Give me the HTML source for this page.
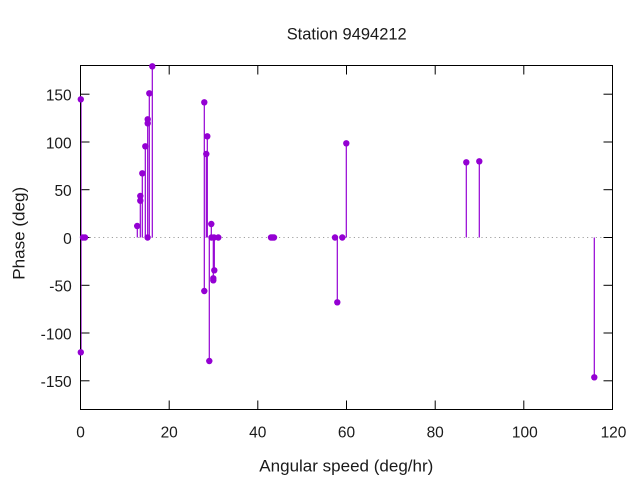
<!DOCTYPE html>
<html>
<head>
<meta charset="utf-8">
<style>
html,body{margin:0;padding:0;background:#fff;}
svg{display:block;}
text{font-family:"Liberation Sans",sans-serif;fill:#1a1a1a;}
</style>
</head>
<body>
<svg width="640" height="480" viewBox="0 0 640 480" xmlns="http://www.w3.org/2000/svg">
<rect width="640" height="480" fill="#fff"/>
<!-- title -->
<text x="346.7" y="39.3" font-size="16.5" text-anchor="middle" textLength="120" lengthAdjust="spacingAndGlyphs">Station 9494212</text>
<!-- zero line -->
<line x1="81" y1="237.5" x2="612" y2="237.5" stroke="#a0a0a0" stroke-width="1" stroke-dasharray="1.2,3.2"/>
<!-- ticks -->
<g stroke="#000" stroke-width="1">
  <!-- y ticks left & right -->
  <line x1="80.5" y1="94.2" x2="89.5" y2="94.2"/><line x1="612.5" y1="94.2" x2="603.5" y2="94.2"/>
  <line x1="80.5" y1="142" x2="89.5" y2="142"/><line x1="612.5" y1="142" x2="603.5" y2="142"/>
  <line x1="80.5" y1="189.7" x2="89.5" y2="189.7"/><line x1="612.5" y1="189.7" x2="603.5" y2="189.7"/>
  <line x1="80.5" y1="237.5" x2="89.5" y2="237.5"/><line x1="612.5" y1="237.5" x2="603.5" y2="237.5"/>
  <line x1="80.5" y1="285.3" x2="89.5" y2="285.3"/><line x1="612.5" y1="285.3" x2="603.5" y2="285.3"/>
  <line x1="80.5" y1="333" x2="89.5" y2="333"/><line x1="612.5" y1="333" x2="603.5" y2="333"/>
  <line x1="80.5" y1="380.8" x2="89.5" y2="380.8"/><line x1="612.5" y1="380.8" x2="603.5" y2="380.8"/>
  <!-- x ticks bottom & top -->
  <line x1="169.2" y1="409.5" x2="169.2" y2="400.5"/><line x1="169.2" y1="65.5" x2="169.2" y2="74.5"/>
  <line x1="257.8" y1="409.5" x2="257.8" y2="400.5"/><line x1="257.8" y1="65.5" x2="257.8" y2="74.5"/>
  <line x1="346.5" y1="409.5" x2="346.5" y2="400.5"/><line x1="346.5" y1="65.5" x2="346.5" y2="74.5"/>
  <line x1="435.2" y1="409.5" x2="435.2" y2="400.5"/><line x1="435.2" y1="65.5" x2="435.2" y2="74.5"/>
  <line x1="523.8" y1="409.5" x2="523.8" y2="400.5"/><line x1="523.8" y1="65.5" x2="523.8" y2="74.5"/>
</g>
<!-- y tick labels -->
<g font-size="15.5" text-anchor="end">
  <text x="71.7" y="100.5">150</text>
  <text x="71.7" y="148.3">100</text>
  <text x="71.7" y="196">50</text>
  <text x="71.7" y="243.8">0</text>
  <text x="71.7" y="291.6">-50</text>
  <text x="71.7" y="339.3">-100</text>
  <text x="71.7" y="387.1">-150</text>
</g>
<!-- x tick labels -->
<g font-size="15.5" text-anchor="middle">
  <text x="80.5" y="437.3">0</text>
  <text x="169.2" y="437.3">20</text>
  <text x="257.8" y="437.3">40</text>
  <text x="346.5" y="437.3">60</text>
  <text x="435.2" y="437.3">80</text>
  <text x="524.8" y="437.3">100</text>
  <text x="613.5" y="437.3">120</text>
</g>
<!-- axis labels -->
<text x="346.3" y="471.5" font-size="17" text-anchor="middle" textLength="174" lengthAdjust="spacingAndGlyphs">Angular speed (deg/hr)</text>
<text transform="translate(24.5,233.3) rotate(-90)" font-size="17" text-anchor="middle" textLength="93" lengthAdjust="spacingAndGlyphs">Phase (deg)</text>
<!-- impulses -->
<g stroke="#9400d3" stroke-width="1.2">
  <line x1="81" y1="237.5" x2="81" y2="352.3"/>
  <line x1="81" y1="237.5" x2="81" y2="99.3"/>
  <line x1="137.3" y1="237.5" x2="137.3" y2="226"/>
  <line x1="140.3" y1="237.5" x2="140.3" y2="196"/>
  <line x1="142.3" y1="237.5" x2="142.3" y2="173.3"/>
  <line x1="145.3" y1="237.5" x2="145.3" y2="146.3"/>
  <line x1="147.7" y1="237.5" x2="147.7" y2="119.3"/>
  <line x1="149.3" y1="237.5" x2="149.3" y2="93.3"/>
  <line x1="152.3" y1="237.5" x2="152.3" y2="66.3"/>
  <line x1="204.3" y1="237.5" x2="204.3" y2="102.3"/>
  <line x1="204.3" y1="237.5" x2="204.3" y2="291"/>
  <line x1="206.3" y1="237.5" x2="206.3" y2="154"/>
  <line x1="207.3" y1="237.5" x2="207.3" y2="136.3"/>
  <line x1="209.3" y1="237.5" x2="209.3" y2="361"/>
  <line x1="211.3" y1="237.5" x2="211.3" y2="224"/>
  <line x1="213.3" y1="237.5" x2="213.3" y2="280.3"/>
  <line x1="214.3" y1="237.5" x2="214.3" y2="270.3"/>
  <line x1="337.3" y1="237.5" x2="337.3" y2="302.3"/>
  <line x1="346.3" y1="237.5" x2="346.3" y2="143.3"/>
  <line x1="466.3" y1="237.5" x2="466.3" y2="162.3"/>
  <line x1="479.3" y1="237.5" x2="479.3" y2="161.3"/>
  <line x1="594.3" y1="237.5" x2="594.3" y2="377.3"/>
</g>
<!-- border -->
<rect x="80.5" y="65.5" width="532" height="344" fill="none" stroke="#000" stroke-width="1"/>
<!-- points -->
<g fill="#9400d3">
  <circle cx="80.8" cy="99.3" r="3.2"/>
  <circle cx="80.8" cy="352.3" r="3.2"/>
  <circle cx="83" cy="237.5" r="3.2"/>
  <circle cx="85" cy="237.5" r="3.2"/>
  <circle cx="137.2" cy="226" r="3.2"/>
  <circle cx="140.3" cy="196" r="3.2"/>
  <circle cx="140.3" cy="200.7" r="3.2"/>
  <circle cx="142.3" cy="173.3" r="3.2"/>
  <circle cx="145.3" cy="146.3" r="3.2"/>
  <circle cx="147.7" cy="119.3" r="3.2"/>
  <circle cx="147.7" cy="123.3" r="3.2"/>
  <circle cx="147.6" cy="237.5" r="3.2"/>
  <circle cx="149.3" cy="93.3" r="3.2"/>
  <circle cx="152.3" cy="66.3" r="3.2"/>
  <circle cx="204.3" cy="102.3" r="3.2"/>
  <circle cx="207.3" cy="136.3" r="3.2"/>
  <circle cx="206.3" cy="154" r="3.2"/>
  <circle cx="211.3" cy="224" r="3.2"/>
  <circle cx="211.5" cy="237.5" r="3.2"/>
  <circle cx="214" cy="237.5" r="3.2"/>
  <circle cx="218.3" cy="237.5" r="3.2"/>
  <circle cx="214.3" cy="270.3" r="3.2"/>
  <circle cx="213.3" cy="278.3" r="3.2"/>
  <circle cx="213.3" cy="280.3" r="3.2"/>
  <circle cx="204.3" cy="291" r="3.2"/>
  <circle cx="209.3" cy="361" r="3.2"/>
  <circle cx="271" cy="237.5" r="3.2"/>
  <circle cx="272.5" cy="237.5" r="3.2"/>
  <circle cx="274" cy="237.5" r="3.2"/>
  <circle cx="335" cy="237.5" r="3.2"/>
  <circle cx="342.3" cy="237.5" r="3.2"/>
  <circle cx="337.3" cy="302.3" r="3.2"/>
  <circle cx="346.3" cy="143.3" r="3.2"/>
  <circle cx="466.3" cy="162.3" r="3.2"/>
  <circle cx="479.3" cy="161.3" r="3.2"/>
  <circle cx="594.3" cy="377.3" r="3.2"/>
</g>
</svg>
</body>
</html>
